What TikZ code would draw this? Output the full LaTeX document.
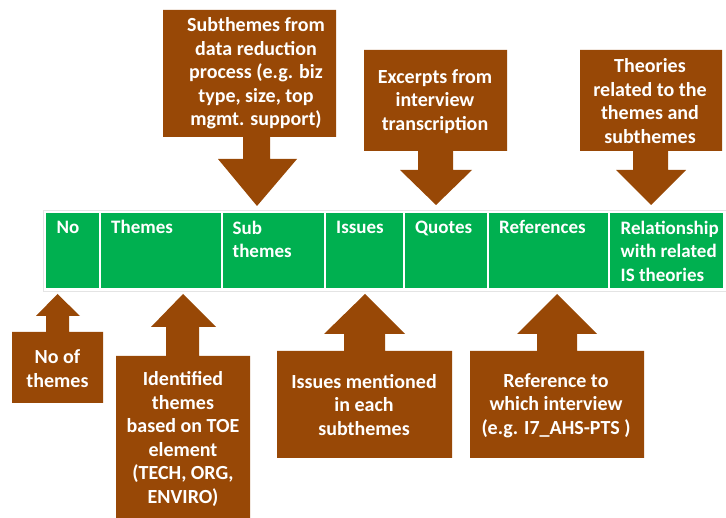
\documentclass[tikz,border=0pt]{standalone}
\usepackage{fontspec}
\setmainfont{Carlito}
\definecolor{calloutbrown}{RGB}{152,72,6}
\definecolor{cellgreen}{RGB}{0,176,80}
\definecolor{framegray}{RGB}{228,228,228}
\begin{document}
\begin{tikzpicture}[x=1pt,y=-1pt,
  txt/.style={font=\fontsize{20}{23.5}\selectfont\bfseries, text=white, inner sep=0pt},
  headtext/.style={txt, font=\fontsize{19}{23.5}\selectfont\bfseries, anchor=base west, align=left},
  notetext/.style={txt, align=center},
  callout/.style={fill=calloutbrown},
  cell/.style={fill=cellgreen, draw=white, line width=1.2pt, inner sep=0pt, minimum height=77pt}]
\useasboundingbox (0,0) rectangle (726,518);

% table frame
\draw[framegray, line width=0.6pt] (43,210) rectangle (726,291);

% table cells
\node[cell, minimum width=55pt]  (cno)    at (72.5,250.5)  {};
\node[cell, minimum width=122pt] (cthm)   at (161,250.5)   {};
\node[cell, minimum width=103pt] (csub)   at (273.5,250.5) {};
\node[cell, minimum width=79pt]  (ciss)   at (364.5,250.5) {};
\node[cell, minimum width=84pt]  (cquo)   at (446,250.5)   {};
\node[cell, minimum width=121pt] (cref)   at (548.5,250.5) {};
\node[cell, minimum width=115pt] (crel)   at (666.5,250.5) {};

% column headings (anchored at the baseline of their last line)
\node[headtext] (hno)  at (56.5,234) {No};
\node[headtext] (hthm) at (111,234)  {Themes};
\node[headtext] (hsub) at (232.5,258) {Sub\\themes};
\node[headtext] (hiss) at (336,234)  {Issues};
\node[headtext] (hquo) at (415,234)  {Quotes};
\node[headtext] (href) at (499,234)  {References};
\node[headtext] (hrel) at (620.5,281.5) {Relationship\\with related\\IS theories};

% callouts above the table (pointing down)
\fill[callout] (163,10) -- (336,10) -- (336,137) -- (270,137) -- (270,159) -- (297,159)
  -- (257,206) -- (218,159) -- (243,159) -- (243,137) -- (163,137) -- cycle;
\fill[callout] (364,50) -- (507,50) -- (507,151) -- (453,151) -- (453,170) -- (472,170)
  -- (436,205) -- (400,170) -- (418,170) -- (418,151) -- (364,151) -- cycle;
\fill[callout] (580,50) -- (722,50) -- (722,151) -- (668,151) -- (668,170) -- (686,170)
  -- (651,205) -- (616,170) -- (633,170) -- (633,151) -- (580,151) -- cycle;

% callouts below the table (pointing up)
\fill[callout] (12,403) -- (103,403) -- (103,332) -- (69,332) -- (69,316) -- (80,316)
  -- (57.5,294) -- (36,316) -- (46,316) -- (46,332) -- (12,332) -- cycle;
\fill[callout] (116,518) -- (250,518) -- (250,356) -- (199,356) -- (199,327) -- (216,327)
  -- (183,294) -- (151,327) -- (166,327) -- (166,356) -- (116,356) -- cycle;
\fill[callout] (277,458) -- (452,458) -- (452,351) -- (385,351) -- (385,334) -- (405,334)
  -- (365,294) -- (324,334) -- (344,334) -- (344,351) -- (277,351) -- cycle;
\fill[callout] (470,458) -- (644,458) -- (644,351) -- (577,351) -- (577,334) -- (597,334)
  -- (557,294) -- (517,334) -- (537,334) -- (537,351) -- (470,351) -- cycle;

% callout texts
\node[notetext] (nsub) at (256,73.5) {Subthemes from\\data reduction\\process (e.g. biz\\type, size, top\\mgmt. support)};
\node[notetext] (nquo) at (435,101.5) {Excerpts from\\interview\\transcription};
\node[notetext] (nrel) at (650,101) {Theories\\related to the\\themes and\\subthemes};
\node[notetext] (nno)  at (57.5,368.5) {No of\\themes};
\node[notetext] (nthm) at (183,439) {Identified\\themes\\based on TOE\\element\\(TECH, ORG,\\ENVIRO)};
\node[notetext] (niss) at (364,405) {Issues mentioned\\in each\\subthemes};
\node[notetext] (nref) at (556,405.5) {Reference to\\which interview\\(e.g. I7\_AHS-PTS )};
\end{tikzpicture}
\end{document}
